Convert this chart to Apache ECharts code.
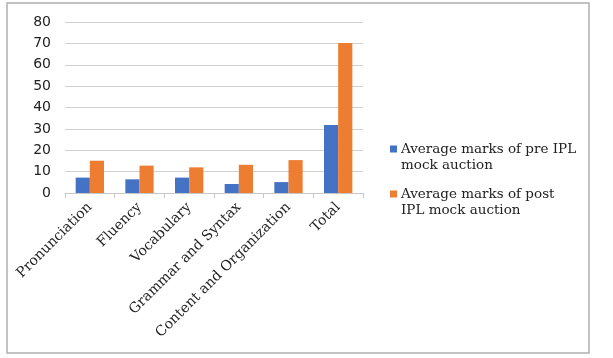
<!DOCTYPE html>
<html><head><meta charset="utf-8">
<script src="https://cdn.jsdelivr.net/npm/echarts@6/dist/echarts.min.js"></script>
<style>html,body{margin:0;padding:0;background:#fff}#c{width:613px;height:358px}</style>
</head><body><div id="c"></div>
<script>
const categories = ["Pronunciation","Fluency","Vocabulary","Grammar and Syntax","Content and Organization","Total"];
const preValues = [7.2, 6.4, 7.2, 4.2, 5.1, 31.8];
const postValues = [15.1, 12.8, 12.0, 13.2, 15.4, 70.2];
const seriesNames = ["Average marks of pre IPL mock auction","Average marks of post IPL mock auction"];
const legendLabels = {"Average marks of pre IPL mock auction":"Average marks of pre IPL\nmock auction","Average marks of post IPL mock auction":"Average marks of post\nIPL mock auction"};
const yTicks = {min:0,max:80,interval:10};

const chart = echarts.init(document.getElementById('c'), null, {renderer:'canvas'});
const iconPath = 'path://M0,0L8,0L8,8L0,8Z M0,26L0.01,26L0.01,26.01Z';
chart.setOption({
  animation:false,
  graphic:[{type:'rect',shape:{x:7,y:3,width:582,height:350},style:{fill:'none',stroke:'#b0b0b0',lineWidth:1.5},z:-1}],
  grid:{left:65,right:250,top:22,bottom:165},
  legend:{
    orient:'vertical',left:385,top:136,itemGap:13,itemWidth:7,itemHeight:26,
    icon:iconPath,
    formatter:n=>legendLabels[n],
    textStyle:{fontFamily:'DejaVu Serif',fontSize:13.5,color:'#222',lineHeight:16,padding:[0,0,0,-1]},
    data:seriesNames
  },
  xAxis:{type:'category',data:categories,
    axisLine:{lineStyle:{color:'#c8c8c8'}},
    axisTick:{show:true,length:5,lineStyle:{color:'#c8c8c8'}},
    axisLabel:{rotate:45,interval:0,fontFamily:'DejaVu Serif',fontSize:14,color:'#222',margin:12}
  },
  yAxis:{type:'value',min:yTicks.min,max:yTicks.max,interval:yTicks.interval,
    axisLine:{show:false},axisTick:{show:false},
    splitLine:{lineStyle:{color:'#d0d0d0'}},
    axisLabel:{fontFamily:'DejaVu Sans',fontSize:14,color:'#222',margin:14}
  },
  series:[
    {name:seriesNames[0],type:'bar',data:preValues,itemStyle:{color:'#4472C4'},barGap:'0%',barCategoryGap:'43%'},
    {name:seriesNames[1],type:'bar',data:postValues,itemStyle:{color:'#ED7D31'},barGap:'0%',barCategoryGap:'43%'}
  ]
});
</script></body></html>
